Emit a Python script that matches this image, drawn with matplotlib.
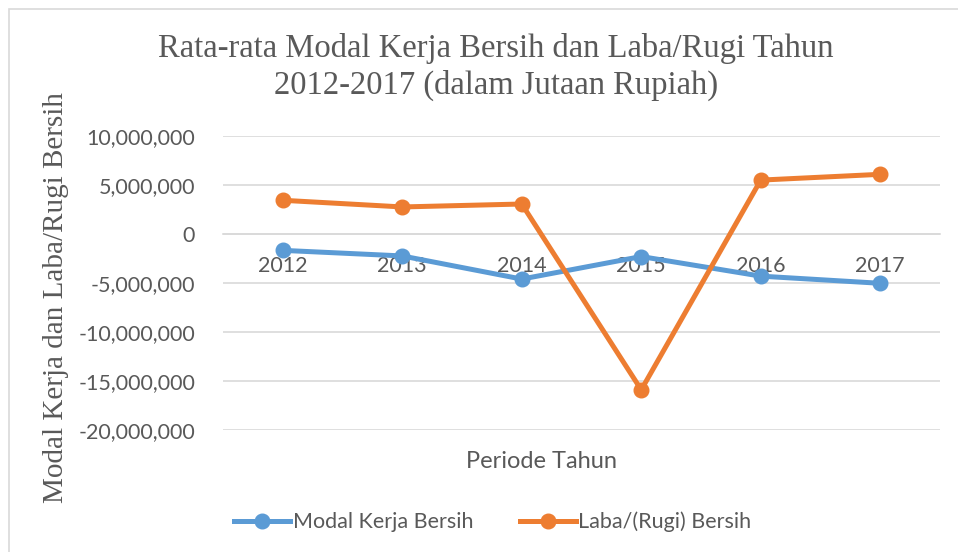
import matplotlib
matplotlib.use("Agg")
import matplotlib.pyplot as plt
from matplotlib.patches import Rectangle
from matplotlib.ticker import FuncFormatter

years = ["2012", "2013", "2014", "2015", "2016", "2017"]
modal_kerja = [-1670000, -2240000, -4600000, -2300000, -4300000, -5030000]
laba_rugi = [3440000, 2760000, 3060000, -15900000, 5500000, 6090000]
y_ticks = [-20000000, -15000000, -10000000, -5000000, 0, 5000000, 10000000]

SANS = "Lato"
SERIF = "Liberation Serif"
GRAY = "#595959"
GRID = "#d9d9d9"

fig = plt.figure(figsize=(9.58, 5.52), dpi=100)
fig.patches.append(Rectangle((9 / 958, -0.1), 1.2, 1 - 9 / 552 + 0.1,
                             transform=fig.transFigure, fill=False,
                             edgecolor=GRID, linewidth=1.2))

ax = fig.add_axes([223 / 958, 1 - 430 / 552, (940 - 223) / 958, (430 - 136) / 552])
x = list(range(len(years)))
l1, = ax.plot(x, modal_kerja, color="#5B9BD5", lw=3.6, marker="o", ms=10.5,
              label="Modal Kerja Bersih", zorder=3)
l2, = ax.plot(x, laba_rugi, color="#ED7D31", lw=3.6, marker="o", ms=10.5,
              label="Laba/(Rugi) Bersih", zorder=3)

ax.set_xlim(-0.5, len(years) - 0.5)
ax.set_ylim(-20000000, 10000000)
ax.set_yticks(y_ticks)
ax.yaxis.set_major_formatter(FuncFormatter(lambda v, p: f"{int(v):,}"))
ax.grid(axis="y", color=GRID, lw=1.2)
ax.set_axisbelow(True)
for s in ["top", "right", "left"]:
    ax.spines[s].set_visible(False)
ax.spines["bottom"].set_position(("data", 0))
ax.spines["bottom"].set_color(GRID)
ax.spines["bottom"].set_linewidth(1.2)
ax.set_xticks(x)
ax.set_xticklabels(years)
ax.tick_params(axis="x", length=0, pad=16, labelsize=15.5, labelcolor=GRAY)
ax.tick_params(axis="y", length=0, pad=20, labelsize=15.5, labelcolor=GRAY)
for lab in ax.get_xticklabels() + ax.get_yticklabels():
    lab.set_fontfamily(SANS)

fig.text(496 / 958, 1 - 67 / 552, "Rata-rata Modal Kerja Bersih dan Laba/Rugi Tahun\n2012-2017 (dalam Jutaan Rupiah)",
         ha="center", va="center", fontsize=23.5, family=SERIF, color=GRAY,
         linespacing=1.25)
fig.text(56 / 958, 1 - 298 / 552, "Modal Kerja dan Laba/Rugi Bersih", rotation=90,
         ha="center", va="center", fontsize=21, family=SERIF, color=GRAY)
fig.text(541 / 958, 1 - 462 / 552, "Periode Tahun", ha="center", va="center",
         fontsize=17, family=SANS, color=GRAY)

leg = fig.legend(handles=[l1, l2], loc="center", bbox_to_anchor=(493 / 958, 1 - 522 / 552),
                 ncol=2, frameon=False, prop={"family": SANS, "size": 15.5},
                 handlelength=2.6, handletextpad=0.1, columnspacing=2.2)
for t in leg.get_texts():
    t.set_color(GRAY)

fig.savefig("out.png", dpi=100)
